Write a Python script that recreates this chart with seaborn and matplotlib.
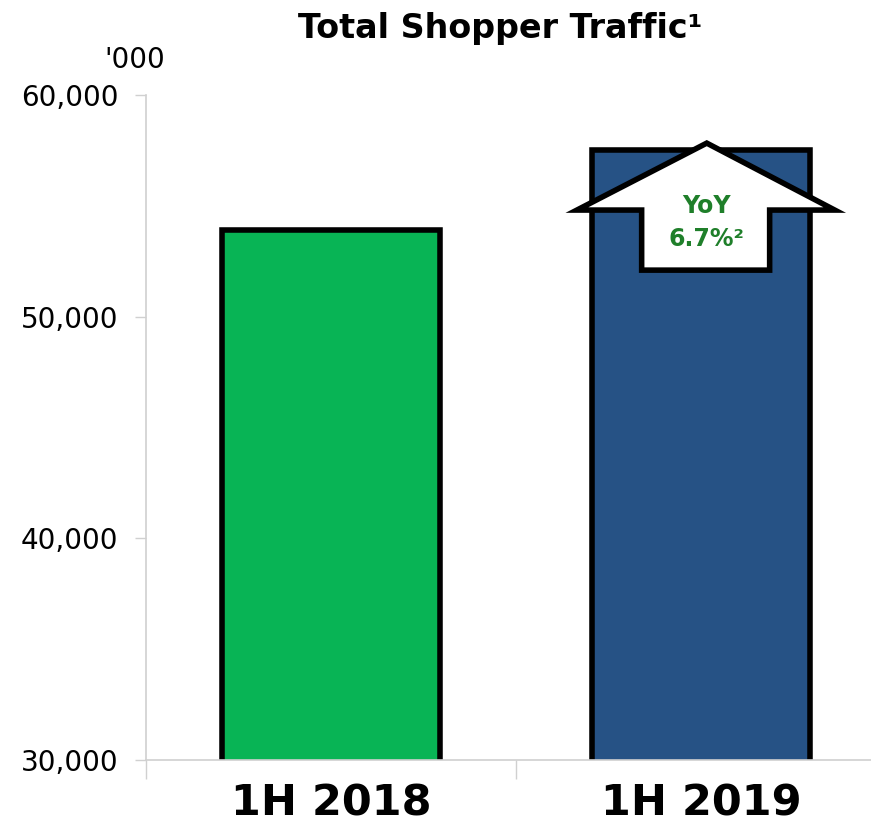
import matplotlib
matplotlib.use("Agg")
import matplotlib.pyplot as plt
from matplotlib.patches import Polygon
from matplotlib.ticker import FuncFormatter, FixedLocator
import seaborn as sns
import pandas as pd

# data
periods = ["1H 2018", "1H 2019"]
traffic = [53900, 57500]
bar_colors = ["#08B455", "#265285"]
yoy_label = "YoY\n6.7%²"
y_ticks = [30000, 40000, 50000, 60000]

sns.set_style("white")
plt.rcParams['font.family'] = ['DejaVu Sans']
plt.rcParams['text.color'] = 'black'

df = pd.DataFrame({"period": periods, "traffic": traffic})

fig = plt.figure(figsize=(8.71, 8.32), dpi=100)
ax = fig.add_axes([0.1676, 0.0865, 0.8324, 0.7993])

sns.barplot(data=df, x="period", y="traffic", hue="period", palette=bar_colors,
            saturation=1, width=0.59, edgecolor="black", linewidth=4,
            legend=False, ax=ax)

ax.set_ylim(30000, 60000)
ax.set_xlim(-0.5, 1.46)
ax.set_yticks(y_ticks)
ax.yaxis.set_major_formatter(FuncFormatter(lambda v, p: f"{int(v):,}"))
ax.tick_params(axis="y", labelsize=20, length=8, width=1, color="#D0D0D0",
               left=True, pad=12, labelcolor="black")
ax.tick_params(axis="x", labelsize=31, length=0, pad=16, labelcolor="black")
for lbl in ax.get_xticklabels():
    lbl.set_fontweight("bold")
ax.xaxis.set_minor_locator(FixedLocator([-0.5, 0.5]))
ax.tick_params(axis="x", which="minor", length=14, width=1, color="#D0D0D0", bottom=True)
ax.set_xlabel("")
ax.set_ylabel("")

for side in ["top", "right"]:
    ax.spines[side].set_visible(False)
for side in ["left", "bottom"]:
    ax.spines[side].set_color("#D0D0D0")
    ax.spines[side].set_linewidth(1.2)

# YoY arrow on the 2019 bar
cx = 1.0
top = traffic[1]
arrow = [
    (cx + 0.016, top + 330),
    (cx + 0.362, top - 2690),
    (cx + 0.186, top - 2690),
    (cx + 0.186, top - 5400),
    (cx - 0.160, top - 5400),
    (cx - 0.160, top - 2690),
    (cx - 0.335, top - 2690),
]
ax.add_patch(Polygon(arrow, closed=True, facecolor="white", edgecolor="black",
                     linewidth=4, joinstyle="miter", zorder=5, clip_on=False))
ax.text(cx + 0.016, top - 3250, yoy_label, ha="center", va="center", fontsize=17,
        fontweight="bold", color="#1F7F2A", linespacing=1.45, zorder=6)

fig.text(0.574, 0.966, "Total Shopper Traffic¹", ha="center", va="center",
         fontsize=24, fontweight="bold", color="black")
fig.text(0.155, 0.928, "'000", ha="center", va="center", fontsize=20, color="black")

fig.savefig("out.png", dpi=100)
